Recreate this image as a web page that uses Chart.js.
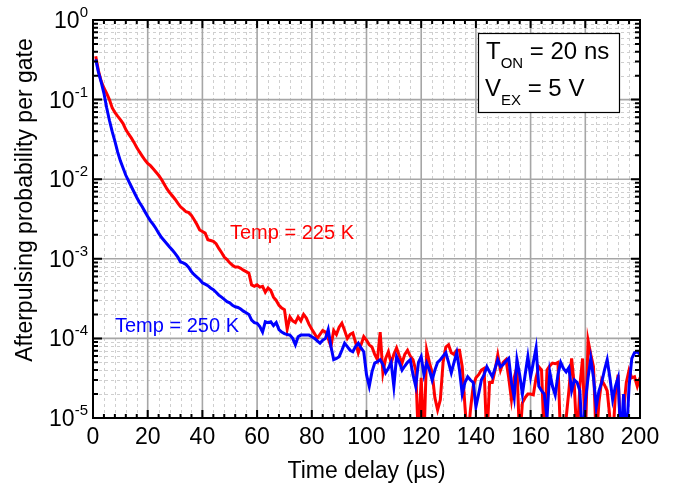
<!DOCTYPE html>
<html>
<head>
<meta charset="utf-8">
<script src="https://cdn.jsdelivr.net/npm/chart.js@4/dist/chart.umd.min.js"></script>
<style>
  html, body { margin: 0; padding: 0; background: #fff; }
  canvas { display: block; }
</style>
</head>
<body>
<canvas id="grafico" width="674" height="489"></canvas>
<script>
/* =========================================================================
   Afterpulsing x atraso — 225 K e 250 K (log)
========================================================================= */

/* DADOS */
const tempo = [
    1, 2, 3, 4, 5, 6, 7, 8, 9, 10, 11, 12, 13, 14, 15, 16, 17, 18, 19, 20,
    21, 22, 23, 24, 25, 26, 27, 28, 29, 30, 31, 32, 33, 34, 35, 36, 37, 38, 39, 40,
    41, 42, 43, 44, 45, 46, 47, 48, 49, 50, 51, 52, 53, 54, 55, 56, 57, 58, 59, 60,
    61, 62, 63, 64, 65, 66, 67, 68, 69, 70, 71, 72, 73, 74, 75, 76, 77, 78, 79, 80,
    81, 82, 83, 84, 85, 86, 87, 88, 89, 90, 91, 92, 93, 94, 95, 96, 97, 98, 99, 100,
    101, 102, 103, 104, 105, 106, 107, 108, 109, 110, 111, 112, 113, 114, 115, 116, 117, 118, 119, 120,
    121, 122, 123, 124, 125, 126, 127, 128, 129, 130, 131, 132, 133, 134, 135, 136, 137, 138, 139, 140,
    141, 142, 143, 144, 145, 146, 147, 148, 149, 150, 151, 152, 153, 154, 155, 156, 157, 158, 159, 160,
    161, 162, 163, 164, 165, 166, 167, 168, 169, 170, 171, 172, 173, 174, 175, 176, 177, 178, 179, 180,
    181, 182, 183, 184, 185, 186, 187, 188, 189, 190, 191, 192, 193, 194, 195, 196, 197, 198, 199, 200
];

const prob225K = [
    0.35, 0.23, 0.17, 0.14, 0.12, 0.10, 0.079, 0.069, 0.062, 0.056,
    0.050, 0.042, 0.037, 0.033, 0.029, 0.025, 0.022, 0.0195, 0.0174, 0.0158,
    0.0148, 0.0135, 0.0123, 0.0112, 0.0100, 0.0087, 0.0076, 0.0068, 0.0062, 0.0056,
    0.0050, 0.0045, 0.0042, 0.0039, 0.0038, 0.0035, 0.0031, 0.0027, 0.0023, 0.0022,
    0.0021, 0.00174, 0.0017, 0.00166, 0.00155, 0.00135, 0.0012, 0.00105, 0.00098, 0.00089,
    8.3e-4, 7.9e-4, 7.9e-4, 7.6e-4, 7.2e-4, 6.9e-4, 6.6e-4, 4.7e-4, 4.5e-4, 4.7e-4,
    4.4e-4, 4.5e-4, 3.8e-4, 4.3e-4, 4.0e-4, 3.3e-4, 3.0e-4, 2.6e-4, 2.4e-4, 2.3e-4,
    1.3e-4, 1.86e-4, 1.66e-4, 1.58e-4, 1.86e-4, 1.66e-4, 2.0e-4, 1.8e-4, 1.5e-4, 1.3e-4,
    1.15e-4, 1.0e-4, 1.12e-4, 1.26e-4, 1.2e-4, 1.0e-4, 7.9e-5, 1.26e-4, 1.12e-4, 1.38e-4,
    1.55e-4, 1.26e-4, 1.0e-4, 1.12e-4, 1.17e-4, 8.9e-5, 6.6e-5, 8.3e-5, 1.05e-4, 9.5e-5,
    8.3e-5, 7.8e-5, 6.3e-5, 5.4e-5, 1.2e-4, 3.7e-5, 5.6e-5, 6.8e-5, 4.9e-5, 6.3e-5,
    7.6e-5, 6.0e-5, 4.9e-5, 6.3e-5, 7.1e-5, 6.0e-5, 5.4e-5, 4.0e-5, 5e-6, 3.2e-5,
    5e-6, 7.1e-5, 5.0e-5, 3.7e-5, 1.8e-5, 1.26e-5, 1.7e-5, 5.0e-5, 7.8e-5, 8.3e-5,
    6.6e-5, 6.3e-5, 7.1e-5, 7.1e-5, 4.4e-5, 1.4e-5, 5e-6, 1.26e-5, 2.5e-5, 3.2e-5,
    3.5e-5, 4.0e-5, 4.2e-5, 5e-6, 2.8e-5, 2.8e-5, 4.0e-5, 6.2e-5, 4.0e-5, 5.0e-5,
    5.4e-5, 3.2e-5, 1.7e-5, 3.2e-5, 4.4e-5, 5e-6, 1.55e-5, 1.8e-5, 2.0e-5, 2.0e-5,
    1.95e-5, 3.2e-5, 4.4e-5, 4.0e-5, 5e-6, 4.0e-5, 4.5e-5, 4.9e-5, 4.8e-5, 5.0e-5,
    5e-6, 5e-6, 1.0e-5, 2.2e-5, 5.6e-5, 2.5e-5, 5e-6, 2.5e-5, 5.6e-5, 5e-6,
    9.5e-5, 6.3e-5, 4.4e-5, 5e-6, 1.6e-5, 3.0e-5, 2.6e-5, 2.2e-5, 1.0e-5, 5e-6,
    2.0e-5, 3.5e-5, 5e-6, 1.26e-5, 2.8e-5, 4.0e-5, 3.2e-5, 3.3e-5, 2.5e-5, 3.2e-5
];

const prob250K = [
    0.32, 0.22, 0.166, 0.12, 0.079, 0.055, 0.040, 0.030, 0.022, 0.017,
    0.0138, 0.0112, 0.0095, 0.0081, 0.0069, 0.0059, 0.0051, 0.0045, 0.0039, 0.0034,
    0.0030, 0.0027, 0.0024, 0.0021, 0.00186, 0.0017, 0.00155, 0.00141, 0.00129, 0.00117,
    0.00105, 9.1e-4, 8.9e-4, 8.5e-4, 7.8e-4, 6.9e-4, 6.3e-4, 5.9e-4, 5.5e-4, 5.0e-4,
    4.8e-4, 4.6e-4, 4.3e-4, 4.1e-4, 3.8e-4, 3.5e-4, 3.3e-4, 3.1e-4, 2.9e-4, 2.8e-4,
    2.6e-4, 2.5e-4, 2.45e-4, 2.34e-4, 2.2e-4, 2.1e-4, 2.0e-4, 1.7e-4, 1.58e-4, 1.55e-4,
    1.41e-4, 1.2e-4, 1.62e-4, 1.58e-4, 1.62e-4, 1.45e-4, 1.58e-4, 1.29e-4, 1.2e-4, 1.15e-4,
    1.12e-4, 1.1e-4, 1.0e-4, 8.3e-5, 1.05e-4, 1.1e-4, 1.1e-4, 1.1e-4, 1.1e-4, 1.05e-4,
    1.0e-4, 9.3e-5, 8.7e-5, 9.5e-5, 1.0e-4, 1.29e-4, 7.9e-5, 5.4e-5, 5.6e-5, 5.9e-5,
    7.1e-5, 8.7e-5, 7.9e-5, 7.1e-5, 6.8e-5, 7.9e-5, 8.7e-5, 7.6e-5, 6.8e-5, 3.5e-5,
    2.5e-5, 3.8e-5, 4.9e-5, 5.1e-5, 5.4e-5, 4.7e-5, 3.7e-5, 4.2e-5, 5.0e-5, 2.5e-5,
    5.9e-5, 5.0e-5, 4.0e-5, 4.5e-5, 5.0e-5, 5.4e-5, 3.5e-5, 2.5e-5, 5.0e-5, 5.9e-5,
    3.5e-5, 4.9e-5, 4.0e-5, 3.0e-5, 4.0e-5, 5.0e-5, 5.4e-5, 6.0e-5, 6.6e-5, 5.0e-5,
    3.7e-5, 5.0e-5, 6.6e-5, 4.0e-5, 2.0e-5, 2.8e-5, 3.3e-5, 3.0e-5, 2.8e-5, 1.38e-5,
    2.0e-5, 3.0e-5, 3.5e-5, 4.4e-5, 3.8e-5, 3.3e-5, 4.2e-5, 5.4e-5, 4.4e-5, 4.7e-5,
    5.2e-5, 5.6e-5, 2.8e-5, 1.8e-5, 5.4e-5, 3.5e-5, 2.0e-5, 3.5e-5, 5.9e-5, 3.3e-5,
    5.0e-5, 7.6e-5, 2.5e-5, 2.2e-5, 2.0e-5, 1.0e-5, 3.8e-5, 2.5e-5, 1.95e-5, 3.5e-5,
    5.0e-5, 4.2e-5, 3.8e-5, 4.3e-5, 2.2e-5, 3.0e-5, 2.8e-5, 2.2e-5, 5e-6, 1.6e-5,
    3.2e-5, 5.6e-5, 3.2e-5, 1.38e-5, 2.2e-5, 2.8e-5, 4.0e-5, 5.4e-5, 3.2e-5, 1.7e-5,
    2.5e-5, 3.2e-5, 5e-6, 2.0e-5, 5e-6, 2.5e-5, 5.6e-5, 6.6e-5, 6.8e-5, 6.3e-5
];

/* EIXOS */
const xTicks = [0, 20, 40, 60, 80, 100, 120, 140, 160, 180, 200];
const yExpoentes = [0, -1, -2, -3, -4, -5];

const FONTE = '"Liberation Sans", Arial, sans-serif';
const VERMELHO = "#ff0000";
const AZUL = "#0000ff";

/* ----------------------------------------------------------------------
   GRADE (menor tracejada + maior sólida) antes das curvas
---------------------------------------------------------------------- */
const grade = {
    id: "grade",
    beforeDatasetsDraw(chart) {
        const { ctx, chartArea: a, scales: { x, y } } = chart;
        ctx.save();

        // linhas menores
        ctx.strokeStyle = "#cfcfcf";
        ctx.lineWidth = 1;
        ctx.setLineDash([3, 3]);
        ctx.beginPath();
        for (let v = 0; v <= 200; v += 4) {
            if (v % 20 === 0) continue;
            const px = Math.round(x.getPixelForValue(v)) + 0.5;
            ctx.moveTo(px, a.top); ctx.lineTo(px, a.bottom);
        }
        yExpoentes.slice(1).forEach(e => {
            for (let m = 2; m <= 9; m++) {
                const py = Math.round(y.getPixelForValue(m * Math.pow(10, e))) + 0.5;
                ctx.moveTo(a.left, py); ctx.lineTo(a.right, py);
            }
        });
        ctx.stroke();

        // linhas maiores
        ctx.setLineDash([]);
        ctx.strokeStyle = "#a6a6a6";
        ctx.lineWidth = 1.6;
        ctx.beginPath();
        xTicks.forEach(v => {
            const px = x.getPixelForValue(v);
            ctx.moveTo(px, a.top); ctx.lineTo(px, a.bottom);
        });
        yExpoentes.forEach(e => {
            const py = y.getPixelForValue(Math.pow(10, e));
            ctx.moveTo(a.left, py); ctx.lineTo(a.right, py);
        });
        ctx.stroke();
        ctx.restore();
    }
};

/* ----------------------------------------------------------------------
   MOLDURA, MARCAS, RÓTULOS E CAIXA DE PARÂMETROS
---------------------------------------------------------------------- */
const moldura = {
    id: "moldura",
    afterDatasetsDraw(chart) {
        const { ctx, chartArea: a, scales: { x, y } } = chart;
        ctx.save();

        // marcas internas nos quatro lados
        ctx.strokeStyle = "#000";
        ctx.lineWidth = 2;
        ctx.beginPath();
        for (let v = 0; v <= 200; v += 4) {
            const px = x.getPixelForValue(v);
            const len = v % 20 === 0 ? 8 : 4;
            ctx.moveTo(px, a.bottom); ctx.lineTo(px, a.bottom - len);
            ctx.moveTo(px, a.top); ctx.lineTo(px, a.top + len);
        }
        yExpoentes.forEach((e, i) => {
            const py = y.getPixelForValue(Math.pow(10, e));
            ctx.moveTo(a.left, py); ctx.lineTo(a.left + 9, py);
            ctx.moveTo(a.right, py); ctx.lineTo(a.right - 9, py);
            if (i === 0) return;
            for (let m = 2; m <= 9; m++) {
                const pm = y.getPixelForValue(m * Math.pow(10, e));
                ctx.moveTo(a.left, pm); ctx.lineTo(a.left + 5, pm);
                ctx.moveTo(a.right, pm); ctx.lineTo(a.right - 5, pm);
            }
        });
        ctx.stroke();

        ctx.lineWidth = 2;
        ctx.strokeRect(a.left, a.top, a.right - a.left, a.bottom - a.top);

        // rótulos do eixo x
        ctx.fillStyle = "#000";
        ctx.font = `23px ${FONTE}`;
        ctx.textAlign = "center";
        ctx.textBaseline = "alphabetic";
        xTicks.forEach(v => ctx.fillText(String(v), x.getPixelForValue(v), 444));

        // rótulos do eixo y: 10 com expoente
        yExpoentes.forEach(e => {
            const py = y.getPixelForValue(Math.pow(10, e));
            ctx.font = `23px ${FONTE}`;
            const w = ctx.measureText("10").width;
            ctx.font = `15px ${FONTE}`;
            const ws = ctx.measureText(String(e)).width;
            const x0 = 88 - w - ws;
            ctx.textAlign = "left";
            ctx.font = `23px ${FONTE}`;
            ctx.fillText("10", x0, py + 8);
            ctx.font = `15px ${FONTE}`;
            ctx.fillText(String(e), x0 + w, py - 3);
        });

        // títulos dos eixos
        ctx.font = `23px ${FONTE}`;
        ctx.textAlign = "center";
        ctx.fillText("Time delay (µs)", (a.left + a.right) / 2, 478);
        ctx.save();
        ctx.translate(32, 200);
        ctx.rotate(-Math.PI / 2);
        ctx.fillText("Afterpulsing probability per gate", 0, 0);
        ctx.restore();

        // identificação das curvas
        ctx.font = `20px ${FONTE}`;
        ctx.textAlign = "left";
        ctx.fillStyle = VERMELHO;
        ctx.fillText("Temp = 225 K", 230, 239);
        ctx.fillStyle = AZUL;
        ctx.fillText("Temp = 250 K", 115, 332);

        // caixa T_ON / V_EX
        ctx.fillStyle = "#fff";
        ctx.fillRect(478, 33, 141, 79);
        ctx.strokeStyle = "#000";
        ctx.lineWidth = 1.2;
        ctx.strokeRect(478.5, 33.5, 141, 79);
        ctx.fillStyle = "#000";
        escreveComIndice(ctx, "T", "ON", " = 20 ns", 486, 59);
        escreveComIndice(ctx, "V", "EX", " = 5 V", 485, 96);

        ctx.restore();
    }
};

function escreveComIndice(ctx, base, indice, resto, x0, yb) {
    ctx.font = `24px ${FONTE}`;
    ctx.fillText(base, x0, yb);
    let xc = x0 + ctx.measureText(base).width;
    ctx.font = `15px ${FONTE}`;
    ctx.fillText(indice, xc, yb + 9);
    xc += ctx.measureText(indice).width;
    ctx.font = `24px ${FONTE}`;
    ctx.fillText(resto, xc, yb);
}

/* ----------------------------------------------------------------------
   GRÁFICO
---------------------------------------------------------------------- */
const pontos = serie => tempo.map((t, i) => ({ x: t, y: serie[i] }));

new Chart(document.querySelector("#grafico").getContext("2d"), {
    type: "line",
    data: {
        datasets: [
            {
                label: "Temp = 250 K",
                data: pontos(prob250K),
                borderColor: AZUL,
                borderWidth: 3,
                pointRadius: 0,
                tension: 0,
                clip: 0
            },
            {
                label: "Temp = 225 K",
                data: pontos(prob225K),
                borderColor: VERMELHO,
                borderWidth: 3,
                pointRadius: 0,
                tension: 0,
                clip: 0
            }
        ]
    },
    options: {
        responsive: false,
        animation: false,
        events: [],
        layout: { padding: { top: 20, right: 34, left: 0, bottom: 0 } },
        plugins: { legend: { display: false }, tooltip: { enabled: false } },
        scales: {
            x: {
                type: "linear",
                min: 0,
                max: 200,
                grid: { display: false },
                border: { display: false },
                ticks: { display: false },
                afterFit: s => { s.height = 71; }
            },
            y: {
                type: "logarithmic",
                min: 1e-5,
                max: 1,
                grid: { display: false },
                border: { display: false },
                ticks: { display: false },
                afterFit: s => { s.width = 93; }
            }
        }
    },
    plugins: [grade, moldura]
});
</script>
</body>
</html>
